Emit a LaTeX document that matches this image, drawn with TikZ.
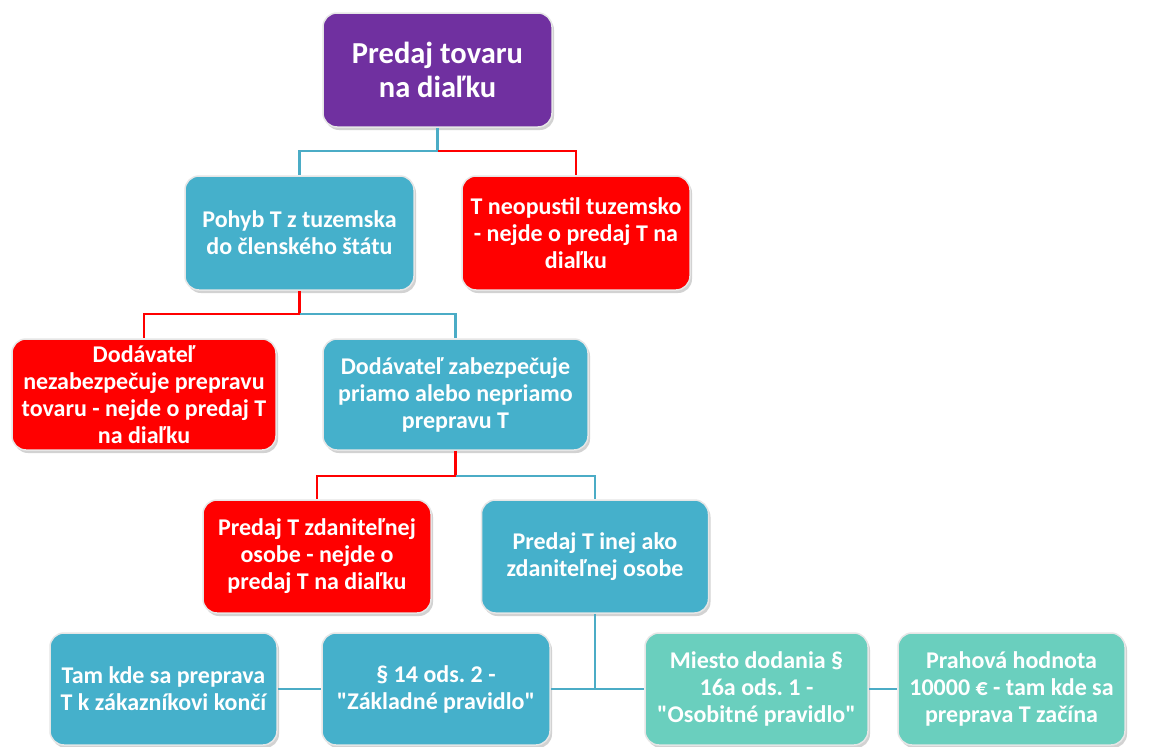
\documentclass[tikz,border=0pt]{standalone}
\usepackage{fontspec}
\setmainfont{Carlito}[Ligatures=TeXOff]
\usetikzlibrary{shadows}
\frenchspacing
\definecolor{cpurple}{HTML}{7030A0}
\definecolor{cblue}{HTML}{45B0CB}
\definecolor{cred}{HTML}{FF0000}
\definecolor{cteal}{HTML}{6ACFBE}
\definecolor{lblue}{HTML}{4BACC6}
\definecolor{cborder}{HTML}{E6E6E6}
\tikzset{
  box/.style={rounded corners=14pt, draw=cborder, line width=1.5pt,
    text=white, align=center, inner sep=2pt,
    font=\bfseries\fontsize{24}{27}\selectfont,
    drop shadow={opacity=0.35, shadow xshift=2pt, shadow yshift=-3pt}},
  bluebox/.style={box, fill=cblue},
  redbox/.style={box, fill=cred},
  tealbox/.style={box, fill=cteal},
  topbox/.style={box, fill=cpurple, font=\bfseries\fontsize{30.5}{34}\selectfont},
  bl/.style={draw=lblue, line width=2.5pt},
  rl/.style={draw=cred, line width=2.5pt},
}
\begin{document}
\begin{tikzpicture}[x=1pt,y=-1pt]
\useasboundingbox[fill=white] (0,0) rectangle (1149,747);
\node[topbox, minimum width=229pt, minimum height=114pt] (top) at (437.5,70) {Predaj tovaru\\na diaľku};
\node[bluebox, minimum width=229pt, minimum height=114pt] (pohyb) at (299.5,233) {Pohyb T z tuzemska\\do členského štátu};
\node[redbox, minimum width=228pt, minimum height=114pt] (neop) at (576,233) {T neopustil tuzemsko\\- nejde o predaj T na\\diaľku};
\node[redbox, minimum width=264pt, minimum height=111pt] (nezab) at (144,394.5) {Dodávateľ\\nezabezpečuje prepravu\\tovaru - nejde o predaj T\\na diaľku};
\node[bluebox, minimum width=265pt, minimum height=111pt] (zab) at (455.5,394.5) {Dodávateľ zabezpečuje\\priamo alebo nepriamo\\prepravu T};
\node[redbox, minimum width=228pt, minimum height=113pt] (zdan) at (317,556.5) {Predaj T zdaniteľnej\\osobe - nejde o\\predaj T na diaľku};
\node[bluebox, minimum width=227pt, minimum height=113pt] (inej) at (595,556.5) {Predaj T inej ako\\zdaniteľnej osobe};
\node[bluebox, minimum width=227pt, minimum height=112pt] (tam) at (163.5,689) {Tam kde sa preprava\\T k zákazníkovi končí};
\node[bluebox, minimum width=228pt, minimum height=112pt] (par) at (436,689) {§ 14 ods. 2 -\\"Základné pravidlo"};
\node[tealbox, minimum width=223pt, minimum height=112pt] (miesto) at (756.5,689) {Miesto dodania §\\16a ods. 1 -\\"Osobitné pravidlo"};
\node[tealbox, minimum width=227pt, minimum height=112pt] (prah) at (1011.5,689) {Prahová hodnota\\10000 € - tam kde sa\\preprava T začína};
% connectors
\coordinate (j1) at ([yshift=-23pt]top.south);
\coordinate (j2) at ([yshift=-23pt]pohyb.south);
\coordinate (j3) at ([yshift=-25pt]zab.south);
\coordinate (j4) at (inej.south |- par.east);
\path[bl] (top.south) -- (j1);
\path[bl] (j1) -| (pohyb.north);
\path[rl] (j1) -| (neop.north);
\path[rl] (pohyb.south) -- (j2);
\path[rl] (j2) -| (nezab.north);
\path[bl] (j2) -| (zab.north);
\path[rl] (zab.south) -- (j3);
\path[rl] (j3) -| (zdan.north);
\path[bl] (j3) -| (inej.north);
\path[bl] (inej.south) -- (j4);
\path[bl] (par.east) -- (miesto.west);
\path[bl] (tam.east) -- (par.west);
\path[bl] (miesto.east) -- (prah.west);
\end{tikzpicture}
\end{document}
